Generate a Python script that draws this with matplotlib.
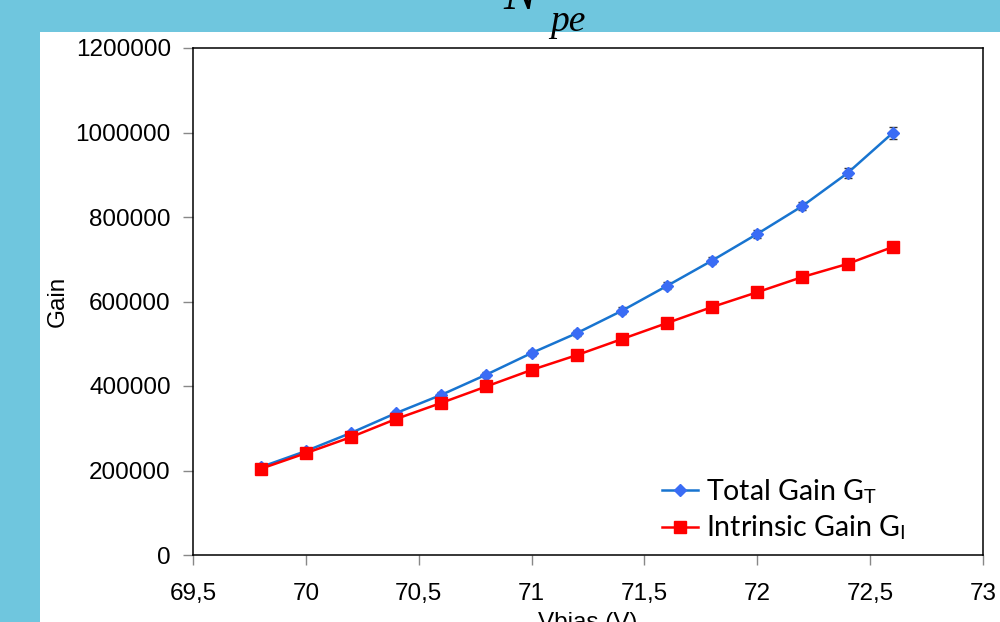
import matplotlib
matplotlib.use("Agg")
import matplotlib.pyplot as plt
from matplotlib.patches import Rectangle

# Bias voltage (V) and measured gains
vbias = [69.8, 70.0, 70.2, 70.4, 70.6, 70.8, 71.0, 71.2, 71.4, 71.6, 71.8, 72.0, 72.2, 72.4, 72.6]
total_gain = [208000, 246000, 289000, 336000, 379000, 427000, 478000, 525000,
              578000, 637000, 697000, 760000, 826000, 904000, 999000]
total_gain_err = [4000, 4000, 5000, 5000, 6000, 6000, 7000, 7000,
                  8000, 8000, 9000, 10000, 10000, 12000, 14000]
intrinsic_gain = [204000, 241000, 279000, 322000, 360000, 399000, 438000, 473000,
                  511000, 549000, 587000, 622000, 658000, 689000, 729000]

x_ticks = [69.5, 70.0, 70.5, 71.0, 71.5, 72.0, 72.5, 73.0]
x_tick_labels = ["69,5", "70", "70,5", "71", "71,5", "72", "72,5", "73"]
y_ticks = [0, 200000, 400000, 600000, 800000, 1000000, 1200000]

plt.rcParams["font.family"] = ["Liberation Sans", "DejaVu Sans"]
plt.rcParams["mathtext.fontset"] = "stix"

W, H = 1000, 622
fig = plt.figure(figsize=(W / 100, H / 100), dpi=100)
fig.patch.set_facecolor("#6FC6DE")

# white slide panel behind the chart
fig.patches.append(Rectangle((40 / W, 0), 1 - 40 / W, (H - 32) / H,
                             transform=fig.transFigure, facecolor="white",
                             edgecolor="none", zorder=-5))

# formula fragment at the top of the slide
serif = ["Liberation Serif", "DejaVu Serif"]
fig.text(503 / W, 1 - 9 / H, "N", fontsize=36, color="black", family=serif,
         style="italic", ha="left", va="baseline")
fig.text(550 / W, 1 - 31 / H, "pe", fontsize=27, color="black", family=serif,
         style="italic", ha="left", va="baseline")

ax = fig.add_axes([193 / W, 1 - 555 / H, (983 - 193) / W, (555 - 48) / H])
ax.set_facecolor("white")

# total gain: uncertainty bars, then line with diamond markers
ax.errorbar(vbias, total_gain, yerr=total_gain_err, fmt="none", ecolor="#333333",
            elinewidth=1.0, capsize=3, capthick=1.0, zorder=2)
h_total, = ax.plot(vbias, total_gain, color="#1874D0", lw=1.8, marker="D",
                   markersize=6.5, markerfacecolor="#3A6CF5",
                   markeredgecolor="#3A6CF5", zorder=3)
h_intr, = ax.plot(vbias, intrinsic_gain, color="#FF0000", lw=1.8, marker="s",
                  markersize=8.5, markerfacecolor="#FF0000",
                  markeredgecolor="#FF0000", zorder=4)

ax.set_xlim(69.5, 73.0)
ax.set_ylim(0, 1200000)
ax.set_xticks(x_ticks)
ax.set_xticklabels(x_tick_labels)
ax.set_yticks(y_ticks)
ax.set_yticklabels([str(v) for v in y_ticks])

for s in ax.spines.values():
    s.set_color("black")
    s.set_linewidth(1.1)

ax.tick_params(axis="both", which="major", labelsize=17.5, color="#888888",
               length=7, width=1.0, direction="out")
ax.tick_params(axis="x", pad=13)
ax.tick_params(axis="y", pad=9)

ax.set_ylabel("Gain", fontsize=17.5, labelpad=5)
ax.set_xlabel("Vbias (V)", fontsize=17.5, labelpad=5)

ax.legend([h_total, h_intr],
          [r"Total Gain G$_{\mathregular{T}}$", r"Intrinsic Gain G$_{\mathregular{I}}$"],
          loc="upper left", bbox_to_anchor=(662 / W, 1 - 477 / H),
          bbox_transform=fig.transFigure, frameon=False,
          prop={"family": ["Lato", "DejaVu Sans"], "size": 20.5},
          handlelength=1.25, handletextpad=0.3, labelspacing=0.28,
          borderpad=0, borderaxespad=0)

fig.savefig("out.png", dpi=100, facecolor=fig.get_facecolor())
